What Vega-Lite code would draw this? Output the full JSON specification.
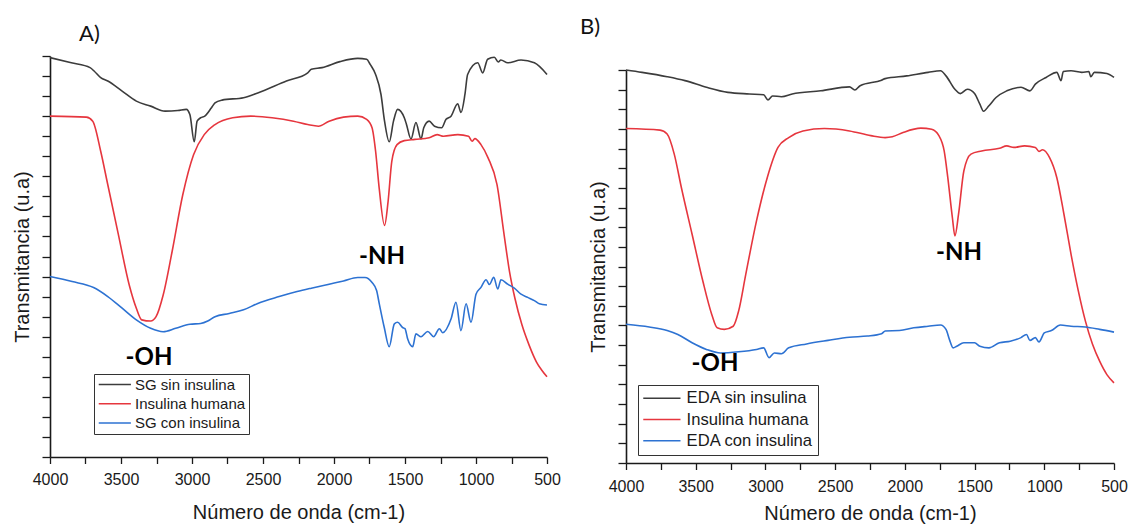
{
  "$schema": "https://vega.github.io/schema/vega-lite/v6.json",
  "background": "white",
  "padding": {"left": 12, "top": 16, "right": 0, "bottom": 0},
  "datasets": {
    "a": [
      {"s":"SG sin insulina","x":4000,"y":9.96},{"s":"SG sin insulina","x":3850,"y":9.83},{"s":"SG sin insulina","x":3718,"y":9.71},{"s":"SG sin insulina","x":3688,"y":9.62},{"s":"SG sin insulina","x":3643,"y":9.46},{"s":"SG sin insulina","x":3593,"y":9.375},{"s":"SG sin insulina","x":3492,"y":9.125},{"s":"SG sin insulina","x":3392,"y":8.875},{"s":"SG sin insulina","x":3291,"y":8.75},{"s":"SG sin insulina","x":3190,"y":8.625},{"s":"SG sin insulina","x":3100,"y":8.64},{"s":"SG sin insulina","x":3040,"y":8.67},{"s":"SG sin insulina","x":3015,"y":8.54},{"s":"SG sin insulina","x":2984,"y":7.86},{"s":"SG sin insulina","x":2964,"y":8.375},{"s":"SG sin insulina","x":2939,"y":8.46},{"s":"SG sin insulina","x":2910,"y":8.5},{"s":"SG sin insulina","x":2863,"y":8.71},{"s":"SG sin insulina","x":2838,"y":8.83},{"s":"SG sin insulina","x":2788,"y":8.9},{"s":"SG sin insulina","x":2637,"y":8.96},{"s":"SG sin insulina","x":2537,"y":9.08},{"s":"SG sin insulina","x":2335,"y":9.375},{"s":"SG sin insulina","x":2185,"y":9.58},{"s":"SG sin insulina","x":2160,"y":9.67},{"s":"SG sin insulina","x":2084,"y":9.71},{"s":"SG sin insulina","x":1958,"y":9.86},{"s":"SG sin insulina","x":1833,"y":9.94},{"s":"SG sin insulina","x":1770,"y":9.92},{"s":"SG sin insulina","x":1745,"y":9.79},{"s":"SG sin insulina","x":1707,"y":9.54},{"s":"SG sin insulina","x":1669,"y":9.04},{"s":"SG sin insulina","x":1644,"y":8.375},{"s":"SG sin insulina","x":1611,"y":7.86},{"s":"SG sin insulina","x":1581,"y":8.375},{"s":"SG sin insulina","x":1552,"y":8.67},{"s":"SG sin insulina","x":1505,"y":8.46},{"s":"SG sin insulina","x":1490,"y":8.3},{"s":"SG sin insulina","x":1458,"y":7.93},{"s":"SG sin insulina","x":1423,"y":8.34},{"s":"SG sin insulina","x":1387,"y":7.93},{"s":"SG sin insulina","x":1368,"y":8.21},{"s":"SG sin insulina","x":1330,"y":8.375},{"s":"SG sin insulina","x":1292,"y":8.25},{"s":"SG sin insulina","x":1242,"y":8.21},{"s":"SG sin insulina","x":1211,"y":8.42},{"s":"SG sin insulina","x":1176,"y":8.5},{"s":"SG sin insulina","x":1129,"y":8.81},{"s":"SG sin insulina","x":1106,"y":8.59},{"s":"SG sin insulina","x":1078,"y":9.04},{"s":"SG sin insulina","x":1059,"y":9.54},{"s":"SG sin insulina","x":988,"y":9.83},{"s":"SG sin insulina","x":953,"y":9.58},{"s":"SG sin insulina","x":918,"y":9.92},{"s":"SG sin insulina","x":871,"y":9.97},{"s":"SG sin insulina","x":843,"y":9.85},{"s":"SG sin insulina","x":825,"y":9.9},{"s":"SG sin insulina","x":777,"y":9.83},{"s":"SG sin insulina","x":683,"y":9.9},{"s":"SG sin insulina","x":589,"y":9.83},{"s":"SG sin insulina","x":500,"y":9.54},
      {"s":"Insulina humana","x":4000,"y":8.5},{"s":"Insulina humana","x":3744,"y":8.475},{"s":"Insulina humana","x":3699,"y":8.375},{"s":"Insulina humana","x":3643,"y":7.625},{"s":"Insulina humana","x":3593,"y":6.79},{"s":"Insulina humana","x":3518,"y":5.54},{"s":"Insulina humana","x":3442,"y":4.29},{"s":"Insulina humana","x":3392,"y":3.71},{"s":"Insulina humana","x":3354,"y":3.42},{"s":"Insulina humana","x":3291,"y":3.39},{"s":"Insulina humana","x":3253,"y":3.5},{"s":"Insulina humana","x":3203,"y":4.04},{"s":"Insulina humana","x":3140,"y":5.125},{"s":"Insulina humana","x":3065,"y":6.54},{"s":"Insulina humana","x":2989,"y":7.54},{"s":"Insulina humana","x":2914,"y":8.04},{"s":"Insulina humana","x":2838,"y":8.29},{"s":"Insulina humana","x":2713,"y":8.46},{"s":"Insulina humana","x":2587,"y":8.5},{"s":"Insulina humana","x":2436,"y":8.46},{"s":"Insulina humana","x":2285,"y":8.375},{"s":"Insulina humana","x":2185,"y":8.29},{"s":"Insulina humana","x":2109,"y":8.25},{"s":"Insulina humana","x":2034,"y":8.375},{"s":"Insulina humana","x":1933,"y":8.475},{"s":"Insulina humana","x":1833,"y":8.5},{"s":"Insulina humana","x":1770,"y":8.42},{"s":"Insulina humana","x":1732,"y":8.21},{"s":"Insulina humana","x":1707,"y":7.625},{"s":"Insulina humana","x":1682,"y":6.71},{"s":"Insulina humana","x":1644,"y":5.775},{"s":"Insulina humana","x":1619,"y":6.375},{"s":"Insulina humana","x":1593,"y":7.375},{"s":"Insulina humana","x":1556,"y":7.79},{"s":"Insulina humana","x":1505,"y":7.89},{"s":"Insulina humana","x":1430,"y":7.92},{"s":"Insulina humana","x":1330,"y":7.96},{"s":"Insulina humana","x":1274,"y":8.04},{"s":"Insulina humana","x":1229,"y":8.0},{"s":"Insulina humana","x":1128,"y":8.04},{"s":"Insulina humana","x":1053,"y":8.0},{"s":"Insulina humana","x":1028,"y":7.875},{"s":"Insulina humana","x":1008,"y":7.94},{"s":"Insulina humana","x":965,"y":7.79},{"s":"Insulina humana","x":915,"y":7.46},{"s":"Insulina humana","x":852,"y":6.79},{"s":"Insulina humana","x":802,"y":5.54},{"s":"Insulina humana","x":764,"y":4.625},{"s":"Insulina humana","x":726,"y":3.96},{"s":"Insulina humana","x":676,"y":3.29},{"s":"Insulina humana","x":626,"y":2.79},{"s":"Insulina humana","x":575,"y":2.375},{"s":"Insulina humana","x":538,"y":2.17},{"s":"Insulina humana","x":500,"y":2.0},
      {"s":"SG con insulina","x":4000,"y":4.5},{"s":"SG con insulina","x":3844,"y":4.375},{"s":"SG con insulina","x":3693,"y":4.225},{"s":"SG con insulina","x":3593,"y":4.0},{"s":"SG con insulina","x":3492,"y":3.71},{"s":"SG con insulina","x":3392,"y":3.42},{"s":"SG con insulina","x":3291,"y":3.21},{"s":"SG con insulina","x":3203,"y":3.125},{"s":"SG con insulina","x":3115,"y":3.21},{"s":"SG con insulina","x":3014,"y":3.31},{"s":"SG con insulina","x":2939,"y":3.33},{"s":"SG con insulina","x":2889,"y":3.39},{"s":"SG con insulina","x":2838,"y":3.5},{"s":"SG con insulina","x":2738,"y":3.58},{"s":"SG con insulina","x":2637,"y":3.67},{"s":"SG con insulina","x":2537,"y":3.83},{"s":"SG con insulina","x":2386,"y":4.0},{"s":"SG con insulina","x":2260,"y":4.125},{"s":"SG con insulina","x":2160,"y":4.21},{"s":"SG con insulina","x":2034,"y":4.31},{"s":"SG con insulina","x":1933,"y":4.39},{"s":"SG con insulina","x":1833,"y":4.475},{"s":"SG con insulina","x":1782,"y":4.475},{"s":"SG con insulina","x":1732,"y":4.35},{"s":"SG con insulina","x":1700,"y":4.15},{"s":"SG con insulina","x":1681,"y":3.82},{"s":"SG con insulina","x":1646,"y":3.23},{"s":"SG con insulina","x":1611,"y":2.75},{"s":"SG con insulina","x":1575,"y":3.32},{"s":"SG con insulina","x":1552,"y":3.36},{"s":"SG con insulina","x":1517,"y":3.23},{"s":"SG con insulina","x":1500,"y":3.2},{"s":"SG con insulina","x":1481,"y":2.94},{"s":"SG con insulina","x":1446,"y":2.75},{"s":"SG con insulina","x":1423,"y":3.07},{"s":"SG con insulina","x":1387,"y":3.0},{"s":"SG con insulina","x":1340,"y":3.13},{"s":"SG con insulina","x":1298,"y":3.0},{"s":"SG con insulina","x":1258,"y":3.2},{"s":"SG con insulina","x":1235,"y":3.1},{"s":"SG con insulina","x":1176,"y":3.44},{"s":"SG con insulina","x":1141,"y":3.86},{"s":"SG con insulina","x":1106,"y":3.15},{"s":"SG con insulina","x":1070,"y":3.82},{"s":"SG con insulina","x":1035,"y":3.36},{"s":"SG con insulina","x":1000,"y":4.06},{"s":"SG con insulina","x":965,"y":4.23},{"s":"SG con insulina","x":929,"y":4.42},{"s":"SG con insulina","x":906,"y":4.3},{"s":"SG con insulina","x":875,"y":4.48},{"s":"SG con insulina","x":847,"y":4.19},{"s":"SG con insulina","x":824,"y":4.42},{"s":"SG con insulina","x":777,"y":4.31},{"s":"SG con insulina","x":730,"y":4.21},{"s":"SG con insulina","x":683,"y":4.06},{"s":"SG con insulina","x":636,"y":3.98},{"s":"SG con insulina","x":589,"y":3.9},{"s":"SG con insulina","x":554,"y":3.82},{"s":"SG con insulina","x":500,"y":3.79}
    ],
    "b": [
      {"s":"EDA sin insulina","x":4000,"y":10.0},{"s":"EDA sin insulina","x":3885,"y":9.94},{"s":"EDA sin insulina","x":3705,"y":9.83},{"s":"EDA sin insulina","x":3577,"y":9.73},{"s":"EDA sin insulina","x":3423,"y":9.56},{"s":"EDA sin insulina","x":3269,"y":9.43},{"s":"EDA sin insulina","x":3115,"y":9.39},{"s":"EDA sin insulina","x":3013,"y":9.37},{"s":"EDA sin insulina","x":2982,"y":9.24},{"s":"EDA sin insulina","x":2949,"y":9.34},{"s":"EDA sin insulina","x":2885,"y":9.32},{"s":"EDA sin insulina","x":2808,"y":9.39},{"s":"EDA sin insulina","x":2603,"y":9.47},{"s":"EDA sin insulina","x":2397,"y":9.57},{"s":"EDA sin insulina","x":2359,"y":9.49},{"s":"EDA sin insulina","x":2321,"y":9.6},{"s":"EDA sin insulina","x":2167,"y":9.74},{"s":"EDA sin insulina","x":2141,"y":9.78},{"s":"EDA sin insulina","x":1987,"y":9.85},{"s":"EDA sin insulina","x":1833,"y":9.94},{"s":"EDA sin insulina","x":1744,"y":9.98},{"s":"EDA sin insulina","x":1705,"y":9.85},{"s":"EDA sin insulina","x":1641,"y":9.51},{"s":"EDA sin insulina","x":1603,"y":9.4},{"s":"EDA sin insulina","x":1551,"y":9.51},{"s":"EDA sin insulina","x":1500,"y":9.4},{"s":"EDA sin insulina","x":1462,"y":9.13},{"s":"EDA sin insulina","x":1436,"y":8.95},{"s":"EDA sin insulina","x":1397,"y":9.09},{"s":"EDA sin insulina","x":1346,"y":9.3},{"s":"EDA sin insulina","x":1269,"y":9.47},{"s":"EDA sin insulina","x":1167,"y":9.56},{"s":"EDA sin insulina","x":1103,"y":9.47},{"s":"EDA sin insulina","x":1064,"y":9.64},{"s":"EDA sin insulina","x":987,"y":9.81},{"s":"EDA sin insulina","x":910,"y":9.94},{"s":"EDA sin insulina","x":880,"y":9.73},{"s":"EDA sin insulina","x":864,"y":9.96},{"s":"EDA sin insulina","x":808,"y":9.98},{"s":"EDA sin insulina","x":731,"y":9.94},{"s":"EDA sin insulina","x":680,"y":9.96},{"s":"EDA sin insulina","x":667,"y":9.83},{"s":"EDA sin insulina","x":641,"y":9.94},{"s":"EDA sin insulina","x":551,"y":9.91},{"s":"EDA sin insulina","x":500,"y":9.81},
      {"s":"Insulina humana","x":4000,"y":8.51},{"s":"Insulina humana","x":3756,"y":8.47},{"s":"Insulina humana","x":3705,"y":8.37},{"s":"Insulina humana","x":3654,"y":7.86},{"s":"Insulina humana","x":3603,"y":7.01},{"s":"Insulina humana","x":3526,"y":5.82},{"s":"Insulina humana","x":3449,"y":4.63},{"s":"Insulina humana","x":3385,"y":3.78},{"s":"Insulina humana","x":3346,"y":3.44},{"s":"Insulina humana","x":3295,"y":3.4},{"s":"Insulina humana","x":3231,"y":3.48},{"s":"Insulina humana","x":3192,"y":3.87},{"s":"Insulina humana","x":3141,"y":4.8},{"s":"Insulina humana","x":3064,"y":6.16},{"s":"Insulina humana","x":2987,"y":7.26},{"s":"Insulina humana","x":2910,"y":8.03},{"s":"Insulina humana","x":2833,"y":8.28},{"s":"Insulina humana","x":2731,"y":8.45},{"s":"Insulina humana","x":2577,"y":8.51},{"s":"Insulina humana","x":2397,"y":8.45},{"s":"Insulina humana","x":2244,"y":8.33},{"s":"Insulina humana","x":2141,"y":8.28},{"s":"Insulina humana","x":2090,"y":8.3},{"s":"Insulina humana","x":2013,"y":8.41},{"s":"Insulina humana","x":1885,"y":8.52},{"s":"Insulina humana","x":1808,"y":8.49},{"s":"Insulina humana","x":1756,"y":8.33},{"s":"Insulina humana","x":1718,"y":7.94},{"s":"Insulina humana","x":1692,"y":7.26},{"s":"Insulina humana","x":1659,"y":6.24},{"s":"Insulina humana","x":1641,"y":5.78},{"s":"Insulina humana","x":1615,"y":6.33},{"s":"Insulina humana","x":1577,"y":7.43},{"s":"Insulina humana","x":1526,"y":7.86},{"s":"Insulina humana","x":1449,"y":7.94},{"s":"Insulina humana","x":1321,"y":8.01},{"s":"Insulina humana","x":1269,"y":8.07},{"s":"Insulina humana","x":1218,"y":8.03},{"s":"Insulina humana","x":1141,"y":8.07},{"s":"Insulina humana","x":1064,"y":8.03},{"s":"Insulina humana","x":1038,"y":7.93},{"s":"Insulina humana","x":1013,"y":7.97},{"s":"Insulina humana","x":962,"y":7.77},{"s":"Insulina humana","x":910,"y":7.26},{"s":"Insulina humana","x":859,"y":6.33},{"s":"Insulina humana","x":808,"y":5.31},{"s":"Insulina humana","x":756,"y":4.38},{"s":"Insulina humana","x":705,"y":3.61},{"s":"Insulina humana","x":654,"y":3.02},{"s":"Insulina humana","x":603,"y":2.59},{"s":"Insulina humana","x":551,"y":2.25},{"s":"Insulina humana","x":500,"y":2.04},
      {"s":"EDA con insulina","x":4000,"y":3.53},{"s":"EDA con insulina","x":3833,"y":3.46},{"s":"EDA con insulina","x":3705,"y":3.37},{"s":"EDA con insulina","x":3628,"y":3.27},{"s":"EDA con insulina","x":3526,"y":3.06},{"s":"EDA con insulina","x":3423,"y":2.89},{"s":"EDA con insulina","x":3321,"y":2.8},{"s":"EDA con insulina","x":3192,"y":2.83},{"s":"EDA con insulina","x":3064,"y":2.89},{"s":"EDA con insulina","x":3013,"y":2.93},{"s":"EDA con insulina","x":2974,"y":2.68},{"s":"EDA con insulina","x":2936,"y":2.8},{"s":"EDA con insulina","x":2885,"y":2.78},{"s":"EDA con insulina","x":2833,"y":2.93},{"s":"EDA con insulina","x":2705,"y":3.03},{"s":"EDA con insulina","x":2551,"y":3.12},{"s":"EDA con insulina","x":2397,"y":3.2},{"s":"EDA con insulina","x":2269,"y":3.23},{"s":"EDA con insulina","x":2167,"y":3.29},{"s":"EDA con insulina","x":2141,"y":3.36},{"s":"EDA con insulina","x":2039,"y":3.37},{"s":"EDA con insulina","x":1936,"y":3.44},{"s":"EDA con insulina","x":1833,"y":3.48},{"s":"EDA con insulina","x":1744,"y":3.51},{"s":"EDA con insulina","x":1705,"y":3.4},{"s":"EDA con insulina","x":1680,"y":3.14},{"s":"EDA con insulina","x":1654,"y":2.93},{"s":"EDA con insulina","x":1628,"y":2.97},{"s":"EDA con insulina","x":1577,"y":3.06},{"s":"EDA con insulina","x":1500,"y":3.06},{"s":"EDA con insulina","x":1462,"y":2.97},{"s":"EDA con insulina","x":1397,"y":2.93},{"s":"EDA con insulina","x":1321,"y":3.06},{"s":"EDA con insulina","x":1244,"y":3.1},{"s":"EDA con insulina","x":1167,"y":3.19},{"s":"EDA con insulina","x":1128,"y":3.27},{"s":"EDA con insulina","x":1103,"y":3.12},{"s":"EDA con insulina","x":1064,"y":3.19},{"s":"EDA con insulina","x":1038,"y":3.08},{"s":"EDA con insulina","x":1000,"y":3.31},{"s":"EDA con insulina","x":949,"y":3.37},{"s":"EDA con insulina","x":885,"y":3.51},{"s":"EDA con insulina","x":808,"y":3.48},{"s":"EDA con insulina","x":705,"y":3.46},{"s":"EDA con insulina","x":603,"y":3.4},{"s":"EDA con insulina","x":500,"y":3.33}
    ]
  },
  "hconcat": [
    {
      "width": 497,
      "height": 401,
      "title": {"text": "A)", "anchor": "start", "frame": "group", "dx": 29, "offset": -9, "baseline": "alphabetic", "font": "Lato", "fontSize": 22, "fontWeight": "normal", "color": "#111"},
      "layer": [
        {
          "data": {"name": "a"},
          "mark": {"type": "line", "strokeWidth": 1.6, "interpolate": "monotone"},
          "encoding": {
            "x": {"field": "x", "type": "quantitative", "scale": {"domain": [4000, 500], "nice": false, "zero": false},
              "axis": {"title": "Número de onda (cm-1)", "values": [4000,3750,3500,3250,3000,2750,2500,2250,2000,1750,1500,1250,1000,750,500], "tickCount": 100, "format": "d", "labelExpr": "datum.value % 500 === 0 ? datum.label : ''", "labelFlush": false, "labelOverlap": false, "tickSize": 6.5, "labelPadding": 7.5, "titlePadding": 15,
                "encode": {"ticks": {"update": {"y2": {"signal": "datum.value % 500 === 0 ? 6.5 : 4"}}}}}},
            "y": {"field": "y", "type": "quantitative", "scale": {"domain": [0, 10], "nice": false},
              "axis": {"title": "Transmitancia (u.a)", "values": [0,0.5,1,1.5,2,2.5,3,3.5,4,4.5,5,5.5,6,6.5,7,7.5,8,8.5,9,9.5,10], "tickCount": 100, "labels": false, "tickSize": 8, "titlePadding": 9,
                "encode": {"ticks": {"update": {"x2": {"signal": "datum.value % 1 === 0 ? -8 : -4.5"}}}}}},
            "color": {"field": "s", "type": "nominal",
              "scale": {"domain": ["SG sin insulina", "Insulina humana", "SG con insulina"], "range": ["#3c3c3c", "#e6363e", "#2d72d2"]},
              "legend": {"orient": "none", "legendX": 44, "legendY": 318, "title": null, "symbolType": "M-1.44,0H6.6", "symbolSize": 64, "symbolStrokeWidth": 1.5, "labelOffset": 23, "labelFont": "Liberation Sans", "labelFontSize": 15, "labelColor": "#1a1a1a", "rowPadding": 3.2, "padding": 3, "strokeColor": "#333", "fillColor": "white", "labelLimit": 300}}
          }
        },
        {
          "data": {"values": [{"x": 3303, "y": 2.48, "t": "-OH"}, {"x": 1662, "y": 4.99, "t": "-NH"}]},
          "mark": {"type": "text", "font": "Lato", "fontWeight": "bold", "fontSize": 24, "baseline": "middle", "align": "center", "color": "#000"},
          "encoding": {
            "x": {"field": "x", "type": "quantitative"},
            "y": {"field": "y", "type": "quantitative"},
            "text": {"field": "t", "type": "nominal"}
          }
        }
      ]
    },
    {
      "vconcat": [
        {
          "width": 488,
          "height": 14,
          "data": {"values": [{}]},
          "mark": {"type": "text", "text": ""},
          "encoding": {}
        },
        {
          "width": 488,
          "height": 393,
          "title": {"text": "B)", "anchor": "start", "frame": "group", "dx": -46, "offset": 10.5, "baseline": "alphabetic", "font": "Lato", "fontSize": 22, "fontWeight": "normal", "color": "#111"},
          "layer": [
            {
              "data": {"name": "b"},
              "mark": {"type": "line", "strokeWidth": 1.6, "interpolate": "monotone"},
              "encoding": {
                "x": {"field": "x", "type": "quantitative", "scale": {"domain": [4000, 500], "nice": false, "zero": false},
                  "axis": {"title": "Número de onda (cm-1)", "values": [4000,3750,3500,3250,3000,2750,2500,2250,2000,1750,1500,1250,1000,750,500], "tickCount": 100, "format": "d", "labelExpr": "datum.value % 500 === 0 ? datum.label : ''", "labelFlush": false, "labelOverlap": false, "tickSize": 6.5, "labelPadding": 8.5, "titlePadding": 9.5,
                    "encode": {"ticks": {"update": {"y2": {"signal": "datum.value % 500 === 0 ? 6.5 : 4"}}}}}},
                "y": {"field": "y", "type": "quantitative", "scale": {"domain": [0, 10], "nice": false},
                  "axis": {"title": "Transmitancia (u.a)", "values": [0,0.5,1,1.5,2,2.5,3,3.5,4,4.5,5,5.5,6,6.5,7,7.5,8,8.5,9,9.5,10], "tickCount": 100, "labels": false, "tickSize": 8, "titlePadding": 9,
                    "encode": {"ticks": {"update": {"x2": {"signal": "datum.value % 1 === 0 ? -8 : -4.5"}}}}}},
                "color": {"field": "s", "type": "nominal",
                  "scale": {"domain": ["EDA sin insulina", "Insulina humana", "EDA con insulina"], "range": ["#3c3c3c", "#e6363e", "#2d72d2"]},
                  "legend": {"orient": "none", "legendX": 12, "legendY": 329, "title": null, "symbolType": "M-2.01,0H7.3", "symbolSize": 64, "symbolStrokeWidth": 1.5, "labelOffset": 27, "labelFont": "Liberation Sans", "labelFontSize": 16.6, "labelColor": "#1a1a1a", "rowPadding": 4.2, "padding": 5, "strokeColor": "#333", "fillColor": "white", "labelLimit": 300}}
              }
            },
            {
              "data": {"values": [{"x": 3362, "y": 2.52, "t": "-OH"}, {"x": 1612, "y": 5.34, "t": "-NH"}]},
              "mark": {"type": "text", "font": "Lato", "fontWeight": "bold", "fontSize": 24, "baseline": "middle", "align": "center", "color": "#000"},
              "encoding": {
                "x": {"field": "x", "type": "quantitative"},
                "y": {"field": "y", "type": "quantitative"},
                "text": {"field": "t", "type": "nominal"}
              }
            }
          ]
        }
      ],
      "spacing": 0,
      "bounds": "flush"
    }
  ],
  "spacing": 79,
  "bounds": "flush",
  "resolve": {"scale": {"color": "independent", "x": "independent", "y": "independent"}, "axis": {"x": "independent", "y": "independent"}, "legend": {"color": "independent"}},
  "config": {
    "view": {"stroke": null},
    "axis": {"domainColor": "#1a1a1a", "domainWidth": 1.6, "tickColor": "#1a1a1a", "tickWidth": 1.3, "labelFont": "Liberation Sans", "labelFontSize": 16, "labelColor": "#1a1a1a", "titleFont": "Liberation Sans", "titleFontSize": 20, "titleFontWeight": "normal", "titleColor": "#1a1a1a", "grid": false}
  }
}
